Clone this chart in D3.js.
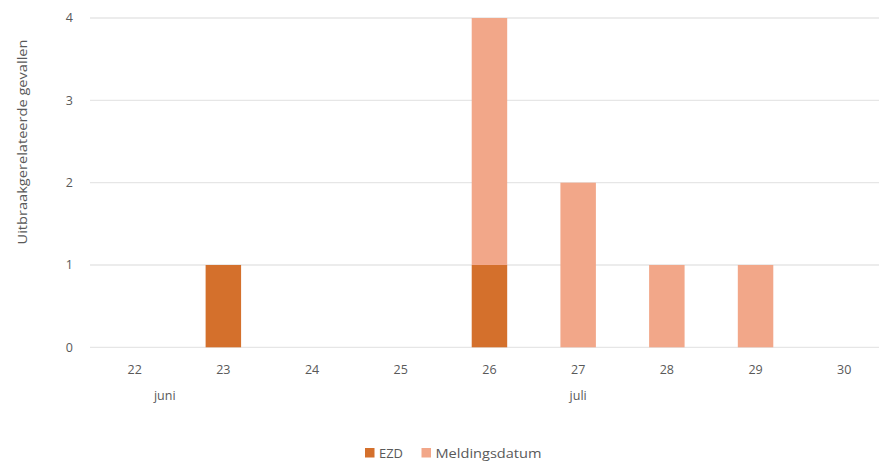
<!DOCTYPE html>
<html><head><meta charset="utf-8">
<script src="https://cdn.jsdelivr.net/npm/d3@7/dist/d3.min.js"></script>
<style>body{margin:0;background:#fff}svg{display:block;font-family:"Open Sans",sans-serif}</style>
</head><body><svg id="c" width="879" height="462"></svg>
<script>
const categories = ["22","23","24","25","26","27","28","29","30"];
const ezd = [0,1,0,0,1,0,0,0,0];
const meldingsdatum = [0,0,0,0,3,2,1,1,0];
const seriesNames = ["EZD","Meldingsdatum"];
const colors = ["#D4702C","#F2A789"];
const yTicks = [0,1,2,3,4];
const months = [{label:"juni", cat:"22", shift:0.34},{label:"juli", cat:"27", shift:0}];
const yTitle = "Uitbraakgerelateerde gevallen";

const svg = d3.select("#c");
const x = d3.scaleBand().domain(categories).range([90.3, 888.6]).paddingInner(0.6).paddingOuter(0.3);
const y = d3.scaleLinear().domain([0,4]).range([347.3, 18]);

const data = categories.map((c,i)=>({cat:c, EZD:ezd[i], Meldingsdatum:meldingsdatum[i]}));
const stack = d3.stack().keys(seriesNames)(data);

svg.append("g").selectAll("line").data(yTicks).join("line")
  .attr("x1",90).attr("x2",879).attr("y1",d=>y(d)).attr("y2",d=>y(d))
  .attr("stroke","#e6e6e6").attr("stroke-width",1.3);

stack.forEach((s,k)=>{
  svg.append("g").attr("fill",colors[k]).selectAll("rect").data(s.filter(d=>d[1]>d[0])).join("rect")
    .attr("x",d=>x(d.data.cat)).attr("width",x.bandwidth())
    .attr("y",d=>y(d[1])).attr("height",d=>y(d[0])-y(d[1]));
});

svg.append("g").selectAll("text").data(yTicks).join("text")
  .attr("x",73).attr("y",d=>y(d)).attr("dy","0.35em").attr("text-anchor","end")
  .attr("font-size",12.5).attr("fill","#595959").text(d=>d);

const cx = c => x(c)+x.bandwidth()/2;
svg.append("g").selectAll("text").data(categories).join("text")
  .attr("x",d=>cx(d)).attr("y",374).attr("text-anchor","middle")
  .attr("font-size",12.5).attr("fill","#595959").text(d=>d);
svg.append("g").selectAll("text").data(months).join("text")
  .attr("x",d=>cx(d.cat)+x.step()*d.shift).attr("y",400).attr("text-anchor","middle")
  .attr("font-size",12.5).attr("fill","#595959").text(d=>d.label);

svg.append("text").attr("transform","translate(27,142) rotate(-90)")
  .attr("text-anchor","middle").attr("font-size",12).attr("fill","#595959")
  .attr("textLength",205).attr("lengthAdjust","spacingAndGlyphs").text(yTitle);

const lg = svg.append("g");
const legendX = [365, 421.5];
const legendW = [24, 106];
seriesNames.forEach((n,i)=>{
  lg.append("rect").attr("x",legendX[i]).attr("y",448).attr("width",9.5).attr("height",9.5).attr("fill",colors[i]);
  lg.append("text").attr("x",legendX[i]+14).attr("y",453).attr("dy","0.35em")
    .attr("font-size",13).attr("fill","#595959")
    .attr("textLength",legendW[i]).attr("lengthAdjust","spacingAndGlyphs").text(n);
});
</script></body></html>
